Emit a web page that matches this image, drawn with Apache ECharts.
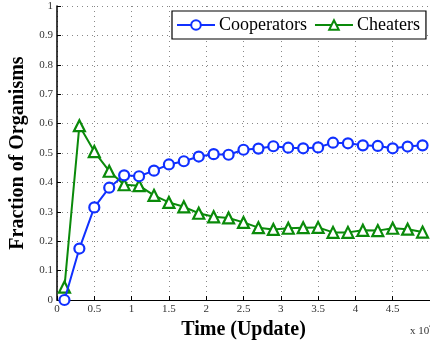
<!DOCTYPE html>
<html>
<head>
<meta charset="utf-8">
<script src="https://cdn.jsdelivr.net/npm/echarts@6/dist/echarts.min.js"></script>
<style>html,body{margin:0;padding:0;background:#fff}#c{width:430px;height:345px}</style>
</head>
<body>
<div id="c"></div>
<script>
const times = [0.1,0.3,0.5,0.7,0.9,1.1,1.3,1.5,1.7,1.9,2.1,2.3,2.5,2.7,2.9,3.1,3.3,3.5,3.7,3.9,4.1,4.3,4.5,4.7,4.9];
const cooperators = [0.0,0.175,0.315,0.382,0.424,0.421,0.44,0.461,0.472,0.488,0.496,0.494,0.511,0.515,0.523,0.518,0.516,0.519,0.535,0.533,0.526,0.524,0.516,0.522,0.526];
const cheaters = [0.044,0.593,0.505,0.438,0.392,0.389,0.356,0.332,0.317,0.295,0.283,0.279,0.264,0.246,0.240,0.244,0.246,0.247,0.230,0.230,0.237,0.236,0.244,0.241,0.231];
const seriesNames = ['Cooperators','Cheaters'];
const xTitle = 'Time (Update)';
const yTitle = 'Fraction of Organisms';

const serif = '"Liberation Serif", "DejaVu Serif", serif';
const chart = echarts.init(document.getElementById('c'));
chart.setOption({
  animation: false,
  grid: {left: 52, right: 0, top: 6, bottom: 40, containLabel: false},
  legend: {
    data: seriesNames,
    orient: 'horizontal',
    left: 172, top: 11, width: 400,
    padding: [4, 6, 4, 4],
    borderColor: '#000', borderWidth: 1.2,
    backgroundColor: '#fff',
    itemWidth: 38, itemHeight: 12, itemGap: 7,
    textStyle: {fontFamily: serif, fontSize: 18, color: '#000', padding: [0,0,0,-1], lineHeight: 20}
  },
  xAxis: {
    type: 'value', min: 0, max: 5, interval: 0.5,
    name: xTitle, nameLocation: 'middle', nameGap: 20,
    nameTextStyle: {fontFamily: serif, fontSize: 20, fontWeight: 'bold', color: '#000'},
    axisLine: {lineStyle: {color: '#000', width: 1}},
    axisTick: {inside: true, length: 4, lineStyle: {color: '#000'}},
    axisLabel: {fontFamily: serif, fontSize: 11, color: '#333', margin: 4, showMaxLabel: false},
    splitLine: {show: true, lineStyle: {color: '#888', type: [1, 4], width: 1}}
  },
  yAxis: {
    type: 'value', min: 0, max: 1, interval: 0.1,
    name: yTitle, nameLocation: 'middle', nameGap: 29,
    nameTextStyle: {fontFamily: serif, fontSize: 20, fontWeight: 'bold', color: '#000'},
    axisLine: {show: true, lineStyle: {color: '#000', width: 1.5}},
    axisTick: {show: true, inside: true, length: 4, lineStyle: {color: '#000'}},
    axisLabel: {fontFamily: serif, fontSize: 11, color: '#333', margin: 4},
    splitLine: {show: true, lineStyle: {color: '#888', type: [1, 4], width: 1}}
  },
  series: [
    {
      name: seriesNames[0], type: 'line',
      data: times.map((t, i) => [t, cooperators[i]]),
      symbol: 'circle', symbolSize: 10,
      lineStyle: {color: '#1030ff', width: 2},
      itemStyle: {color: '#fff', borderColor: '#1030ff', borderWidth: 2.2},
      z: 3
    },
    {
      name: seriesNames[1], type: 'line',
      data: times.map((t, i) => [t, cheaters[i]]),
      symbol: 'triangle', symbolSize: 11,
      lineStyle: {color: '#0a8a0a', width: 2},
      itemStyle: {color: '#fff', borderColor: '#0a8a0a', borderWidth: 2.2},
      z: 2
    }
  ],
  graphic: [{
    type: 'text', left: 410, top: 326,
    style: {text: 'x 10', fontFamily: serif, fontSize: 11, fill: '#333'}
  }, {
    type: 'text', left: 429, top: 322,
    style: {text: '4', fontFamily: serif, fontSize: 8, fill: '#333'}
  }]
});
</script>
</body>
</html>
